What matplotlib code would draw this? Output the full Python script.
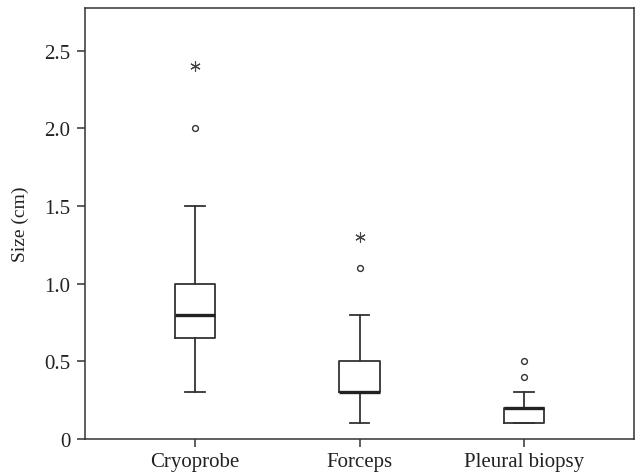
import matplotlib
matplotlib.use("Agg")
import matplotlib.pyplot as plt

categories = ["Cryoprobe", "Forceps", "Pleural biopsy"]
whislo = [0.3, 0.1, 0.1]
q1 = [0.65, 0.3, 0.1]
med = [0.8, 0.3, 0.2]
q3 = [1.0, 0.5, 0.2]
whishi = [1.5, 0.8, 0.3]
outliers_circle = [[2.0], [1.1], [0.4, 0.5]]
outliers_star = [[2.4], [1.3], []]
yticks = [0, 0.5, 1.0, 1.5, 2.0, 2.5]
ytick_labels = ["0", "0.5", "1.0", "1.5", "2.0", "2.5"]

plt.rcParams['font.family'] = ['Liberation Serif', 'DejaVu Serif']

fig = plt.figure(figsize=(6.35, 4.77), dpi=100)
ax = fig.add_axes([85/635, 1 - 440/477, (634-85)/635, (440-9)/477])

lc = '#333333'
stats = []
for i, c in enumerate(categories):
    stats.append(dict(label=c, whislo=whislo[i], q1=q1[i], med=med[i],
                      q3=q3[i], whishi=whishi[i], fliers=[]))
pos = [1, 2, 3]
ax.bxp(stats, positions=pos, widths=0.245, showfliers=False,
       boxprops=dict(color=lc, linewidth=1.3),
       whiskerprops=dict(color=lc, linewidth=1.3),
       capprops=dict(color=lc, linewidth=1.3),
       medianprops=dict(color='#222222', linewidth=2.4),
       capwidths=0.12)

for i, p in enumerate(pos):
    if outliers_circle[i]:
        ax.plot([p]*len(outliers_circle[i]), outliers_circle[i], linestyle='none',
                marker='o', markersize=4.2, markerfacecolor='white',
                markeredgecolor=lc, markeredgewidth=1.0)
    if outliers_star[i]:
        ax.plot([p]*len(outliers_star[i]), outliers_star[i], linestyle='none',
                marker=(6, 2, 0), markersize=7.5, markeredgecolor='#444444',
                markeredgewidth=0.8)

ax.set_xlim(0.33, 3.67)
ax.set_ylim(0, 2.775)
ax.set_yticks(yticks)
ax.set_yticklabels(ytick_labels)
ax.set_xticks(pos)
ax.set_xticklabels(categories)
ax.set_ylabel("Size (cm)", fontsize=14, color='#222222', va='center')
ax.yaxis.set_label_coords((20-85)/549, 0.5)
ax.tick_params(axis='both', labelsize=15, colors='#333333', labelcolor='#222222',
               length=5.5, width=1.1)
ax.tick_params(axis='y', pad=5)
ax.tick_params(axis='x', pad=4)
for s in ax.spines.values():
    s.set_color('#333333')
    s.set_linewidth(1.1)

fig.savefig("out.png", dpi=100)
